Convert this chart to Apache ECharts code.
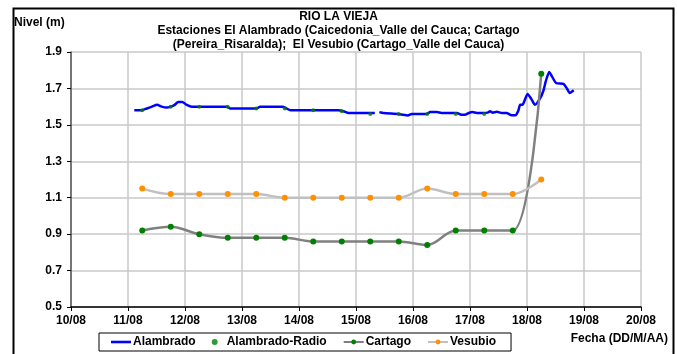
<!DOCTYPE html>
<html>
<head>
<meta charset="utf-8">
<script src="https://cdn.jsdelivr.net/npm/echarts@6/dist/echarts.min.js"></script>
<style>html,body{margin:0;padding:0;background:#fff}#c{width:677px;height:354px}</style>
</head>
<body>
<div id="c"></div>
<script>
// ---- data (x = day of August, fractional) ----
var xTickLabels = ['10/08','11/08','12/08','13/08','14/08','15/08','16/08','17/08','18/08','19/08','20/08'];

var alamT = [11.11,11.24,11.33,11.42,11.51,11.59,11.68,11.75,11.82,11.88,11.95,12.03,12.12,12.23,12.73,12.79,13.26,13.32,13.71,13.78,13.85,14.69,14.78,14.87,15.33,15.37,15.41,15.48,15.74,15.83,15.91,15.98,16.24,16.30,16.42,16.50,16.77,16.85,16.91,16.98,17.04,17.12,17.23,17.31,17.35,17.40,17.47,17.56,17.64,17.73,17.80,17.85,17.88,17.92,18.01,18.08,18.14,18.23,18.29,18.33,18.39,18.44,18.51,18.64,18.70,18.75,18.82];
var alamV = [1.58,1.58,1.59,1.60,1.61,1.60,1.595,1.60,1.61,1.625,1.625,1.61,1.60,1.60,1.60,1.59,1.59,1.60,1.60,1.59,1.58,1.58,1.575,1.565,1.565,null,1.57,1.565,1.56,1.555,1.552,1.56,1.56,1.57,1.57,1.565,1.565,1.555,1.555,1.565,1.57,1.565,1.565,1.567,1.575,1.567,1.572,1.565,1.565,1.553,1.553,1.58,1.61,1.61,1.67,1.64,1.61,1.645,1.69,1.74,1.79,1.765,1.73,1.725,1.70,1.675,1.69];

var radioT = [11.25,11.75,12.25,12.75,13.25,13.75,14.25,14.75,15.25,15.75,16.25,16.75,17.25];
var radioV = [1.58,1.60,1.60,1.60,1.59,1.59,1.58,1.575,1.56,1.56,1.56,1.56,1.56];

var cartT = [11.25,11.75,12.25,12.75,13.25,13.75,14.25,14.75,15.25,15.75,16.25,16.75,17.25,17.75,18.25];
var cartV = [0.92,0.94,0.90,0.88,0.88,0.88,0.86,0.86,0.86,0.86,0.84,0.92,0.92,0.92,1.78];

var vesT = [11.25,11.75,12.25,12.75,13.25,13.75,14.25,14.75,15.25,15.75,16.25,16.75,17.25,17.75,18.25];
var vesV = [1.15,1.12,1.12,1.12,1.12,1.10,1.10,1.10,1.10,1.10,1.15,1.12,1.12,1.12,1.20];

function pairs(t, v){ return t.map(function(x,i){ return [x, v[i]]; }); }

var FONT = '"Liberation Sans", Arial, sans-serif';
var chart = echarts.init(document.getElementById('c'), null, {renderer:'canvas'});
chart.setOption({
  animation: false,
  backgroundColor: '#ffffff',
  title: {
    text: 'RIO LA VIEJA\nEstaciones El Alambrado (Caicedonia_Valle del Cauca; Cartago\n(Pereira_Risaralda);  El Vesubio (Cartago_Valle del Cauca)',
    left: 'center', top: 10, padding: 0,
    textStyle: {fontFamily: FONT, fontSize: 12, fontWeight: 'bold', color: '#000', lineHeight: 14}
  },
  graphic: [
    {type:'rect', left: 11, top: 6, shape:{x:0,y:0,width:660,height:360}, style:{fill:'none', stroke:'#000', lineWidth:2}, silent:true},
    {type:'text', left: 14, top: 17, style:{text:'Nivel (m)', font:'bold 12px ' + FONT, fill:'#000'}},
    {type:'text', right: 9, top: 333, style:{text:'Fecha (DD/M/AA)', font:'bold 12px ' + FONT, fill:'#000'}}
  ],
  legend: {
    left: 99, top: 333,
    padding: [3, 15, 3, 12],
    borderColor: '#000', borderWidth: 1,
    itemWidth: 20, itemHeight: 6, itemGap: 16,
    textStyle: {fontFamily: FONT, fontSize: 12, fontWeight: 'bold', color: '#000', padding:[0,0,0,-3]},
    data: [
      {name:'Alambrado', icon:'path://M0,0L20,0L20,2.6L0,2.6Z'},
      'Alambrado-Radio','Cartago','Vesubio']
  },
  grid: {left: 71, right: 36, top: 52, bottom: 47, containLabel: false},
  xAxis: {
    type: 'value', min: 10, max: 20, interval: 1,
    axisLine: {show: true, onZero: false, lineStyle: {color: '#000', width: 1.5}},
    axisTick: {show: true, length: 4, lineStyle: {color: '#000'}},
    axisLabel: {margin: 8, fontFamily: FONT, fontSize: 12, fontWeight: 'bold', color: '#000',
      formatter: function(v){ return xTickLabels[Math.round(v) - 10]; }},
    splitLine: {show: true, lineStyle: {color: '#c8c8c8', width: 1.5}}
  },
  yAxis: {
    type: 'value', min: 0.5, max: 1.9, interval: 0.2,
    axisLine: {show: true, lineStyle: {color: '#555', width: 1.5}},
    axisTick: {show: true, length: 4, lineStyle: {color: '#000'}},
    axisLabel: {margin: 9, fontFamily: FONT, fontSize: 12, fontWeight: 'bold', color: '#000',
      formatter: function(v){ return v.toFixed(1); }},
    splitLine: {show: true, lineStyle: {color: '#c8c8c8', width: 1.5}}
  },
  series: [
    {name:'Alambrado', type:'line', data: pairs(alamT, alamV), showSymbol:false, symbol:'none',
      connectNulls:false, smooth: 0.2, lineStyle:{color:'#0000ff', width:2.5}, itemStyle:{color:'#0000ff'}, z:2},
    {name:'Alambrado-Radio', type:'scatter', data: pairs(radioT, radioV), symbol:'circle', symbolSize:4,
      itemStyle:{color:'#008000'}, z:3},
    {name:'Cartago', type:'line', data: pairs(cartT, cartV), smooth: 0.35, symbol:'circle', symbolSize:6,
      showAllSymbol:true, lineStyle:{color:'#808080', width:2.5}, itemStyle:{color:'#008000', borderWidth:0}, z:4},
    {name:'Vesubio', type:'line', data: pairs(vesT, vesV), smooth: 0.35, symbol:'circle', symbolSize:6,
      showAllSymbol:true, lineStyle:{color:'#c0c0c0', width:2.5}, itemStyle:{color:'#ff9000', borderWidth:0}, z:4}
  ]
});
</script>
</body>
</html>
